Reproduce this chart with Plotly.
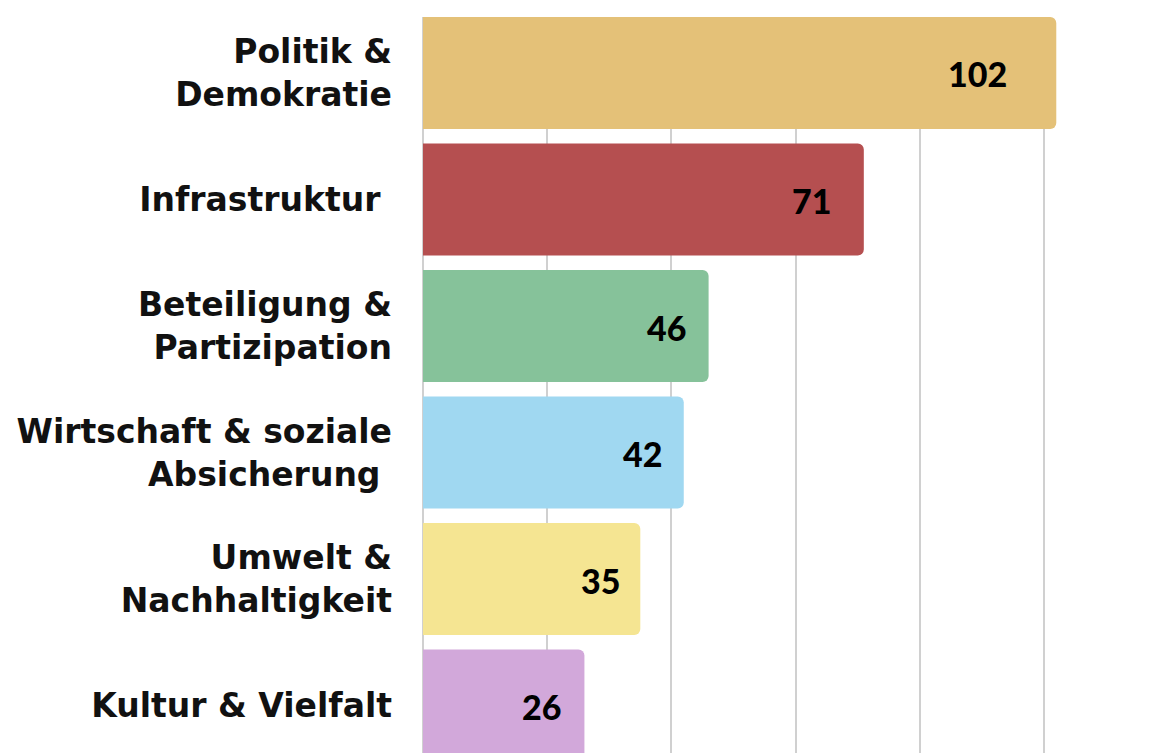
import plotly.graph_objects as go

categories = [
    "Politik &<br>Demokratie",
    "Infrastruktur\u00a0",
    "Beteiligung &<br>Partizipation",
    "Wirtschaft & soziale<br>Absicherung\u00a0",
    "Umwelt &<br>Nachhaltigkeit",
    "Kultur & Vielfalt",
]
values = [102, 71, 46, 42, 35, 26]
colors = ["#E4C178", "#B54F50", "#86C29A", "#A0D8F1", "#F5E592", "#D2A8DA"]
label_shift = [-47, -31, -21, -20, -18, -21]

fig = go.Figure()
fig.add_trace(go.Bar(
    x=values,
    y=categories,
    orientation="h",
    marker=dict(color=colors, line=dict(width=0)),
    hoverinfo="skip",
))

for c, v, s in zip(categories, values, label_shift):
    fig.add_annotation(
        x=v, y=c, text=str(v), showarrow=False,
        xanchor="right", yanchor="middle", xshift=s, yshift=-1,
        font=dict(family="Lato", size=34, color="#000000", weight=900),
    )

fig.update_layout(
    width=1155, height=753,
    margin=dict(l=423, r=0, t=17, b=0),
    paper_bgcolor="white", plot_bgcolor="white",
    bargap=0.115,
    barcornerradius=6,
    showlegend=False,
    xaxis=dict(
        range=[0, 117.9],
        tickvals=[0, 20, 40, 60, 80, 100],
        showticklabels=False,
        showgrid=True, gridcolor="#d0d0d0", gridwidth=1.5,
        zeroline=True, zerolinecolor="#d0d0d0", zerolinewidth=1.5,
        showline=False, fixedrange=True,
    ),
    yaxis=dict(
        type="category",
        range=[5.375, -0.4425],
        showgrid=False, zeroline=False, showline=False,
        ticks="", ticklabelstandoff=30,
        tickfont=dict(family="DejaVu Sans", size=33, color="#111111", weight="bold"),
        fixedrange=True,
    ),
)

fig.write_html("out.html")
